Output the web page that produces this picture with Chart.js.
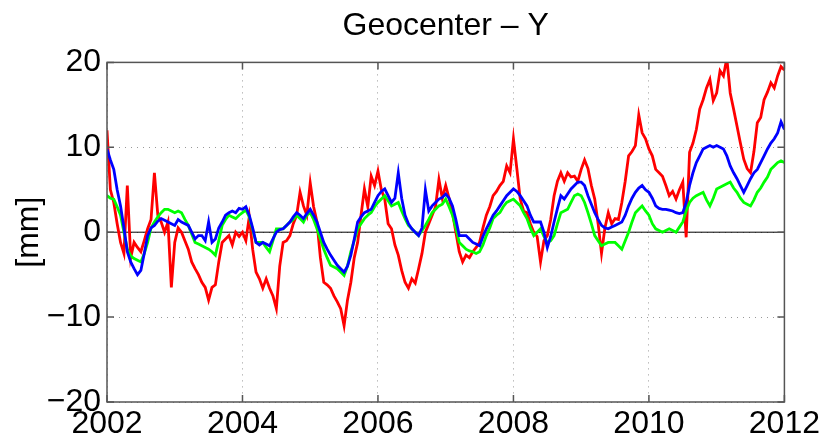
<!DOCTYPE html>
<html>
<head>
<meta charset="utf-8">
<script src="https://cdn.jsdelivr.net/npm/chart.js@4"></script>
<style>
  html, body { margin: 0; padding: 0; background: #fff; }
  #wrap { width: 823px; height: 439px; }
</style>
</head>
<body>
<div id="wrap"><canvas id="myChart" width="823" height="439"></canvas></div>
<script>
// time axis: one sample every 0.05 year, 2002.00 .. 2012.00
startYear = 2002
stepYear = 0.05

// values in mm, 20 per year (x.00 .. x.95) + final 2012.00
redValues = [
  12, 5, 3.5, 1, -1.2, -2.5, 5.5, -3, -1.2, -1.8, -2.3, -1, 0.4, 1.5, 7, 2, 1.2, 0, 1.2, -6.5,
  -1.2, 0.5, 0, -1, -2, -3.5, -4.3, -5, -5.9, -6.5, -8, -6.5, -6.2, -3.5, -1.2, -0.8, -0.4, -1.5, 0, -0.5,
  0, -1, 1.8, -2, -4.7, -5.5, -6.6, -5.5, -6.6, -7.5, -9, -4, -1.2, -1, -0.4, 1, 2, 4.7, 3.1, 2,
  5.8, 3, 1.2, -3, -5.9, -6.2, -6.6, -7.5, -8.2, -9, -11, -8, -5.9, -3, -1.2, 2, 5.1, 3, 6.6, 5.5,
  7.2, 5, 3.9, 1, 0.4, -1.5, -2.7, -4.5, -5.9, -6.6, -5.5, -6, -4.3, -2.5, 0, 1, 2, 3, 6.2, 4,
  5.5, 4, 2.3, 0, -2.3, -3.5, -2.7, -3, -2.3, -1.8, -1.2, 0.5, 2, 3, 4.3, 4.8, 5.5, 6, 7.8, 7,
  11, 7.5, 3.9, 2.5, 2.3, 1, 0, -0.5, -3.5, -1, -0.4, 1.5, 4.3, 6, 7, 6, 7, 6.5, 6.6, 6,
  7.4, 8.5, 7.5, 5.5, 3.9, 1, -2.5, 0.5, 2.3, 1, 1.6, 1.5, 3.5, 6, 9, 9.5, 10.2, 13.8, 11.7, 11,
  9.8, 9, 7.4, 7, 6.6, 5.5, 4.3, 4.8, 3.9, 5, 5.9, -0.6, 9.4, 10.5, 12.1, 14.5, 15.6, 17, 18, 15.5,
  16.4, 19, 18.4, 20.5, 16.4, 14.5, 12.5, 10.5, 8.6, 7.5, 7, 9.5, 12.9, 13.5, 15.6, 16.5, 17.6, 17, 18.4, 19.5,
  19.1
]

greenValues = [
  4.3, 4, 3.9, 3, 2, 0, -2, -2.8, -3.1, -3.3, -3.5, -2.5, -1.2, 0.5, 1.2, 1.8, 2.3, 2.7, 2.7, 2.5,
  2.3, 2.5, 2.3, 1.5, 0.8, -0.2, -1.2, -1.4, -1.6, -1.8, -2, -2.3, -2.7, -1, 0.8, 1.5, 2, 1.8, 1.6, 2,
  2.3, 2.6, 1.8, 0.3, -1.2, -1.2, -1.2, -1.8, -2.3, -1, 0.4, 0.4, 0.4, 0.8, 1.2, 1.5, 2, 1.6, 1.2, 2,
  2.3, 1.5, 0.4, -0.8, -2, -3, -3.9, -4.1, -4.3, -4.7, -5.1, -4, -2.3, -1, 0.4, 1, 1.6, 2, 2.3, 3,
  3.5, 3.9, 4.3, 3.7, 3.1, 3.3, 3.5, 2.5, 1.6, 0.8, 0.4, 0, -0.4, 0.2, 0.8, 1.5, 2.3, 2.7, 3.1, 3.3,
  3.9, 3, 2, 0.5, -1.2, -1.6, -2, -2.2, -2.3, -2.5, -2.3, -1.5, -0.4, 0.5, 1.6, 2, 2.3, 3, 3.5, 3.7,
  3.9, 3.5, 3.1, 2.3, 1.6, 0.5, -0.4, 0, 0.4, -0.5, -1.2, -1, -0.4, 1, 2.3, 2.5, 2.7, 3.5, 4.3, 4.5,
  4.3, 3.5, 2.3, 1, -0.4, -1, -1.6, -1.4, -1.2, -1.2, -1.2, -1.6, -2, -1, 0, 1.2, 2.3, 2.7, 3.1, 2.5,
  2, 1, 0.4, 0.2, 0, 0.2, 0.4, 0.2, 0, 0.6, 1.2, 2.5, 3.5, 4, 4.3, 4.5, 4.7, 3.8, 3.1, 4,
  5.1, 5.3, 5.5, 5.7, 5.9, 5.2, 4.7, 4, 3.5, 3.3, 3.1, 3.8, 4.7, 5.2, 5.9, 6.5, 7.4, 7.8, 8.2, 8.4,
  8.2
]

blueValues = [
  9.8, 8.5, 7.4, 5, 3.1, 0.5, -2.3, -3.5, -4.3, -5, -4.5, -2.5, -0.4, 0.5, 0.8, 1.3, 1.6, 1.4, 1.2, 1,
  0.8, 1.5, 1.2, 1, 0.8, 0, -0.8, -0.4, -0.4, -1, 1.2, -1.2, -0.8, 0.5, 1.2, 2, 2.3, 2.5, 2.3, 2.8,
  2.7, 3, 2, 0.5, -1.2, -1.5, -1.2, -1.4, -1.6, -0.8, 0, 0.3, 0.4, 0.8, 1.2, 1.8, 2.3, 2, 1.6, 2.2,
  2.7, 2, 1.2, 0, -1.2, -2, -2.7, -3.3, -3.9, -4.3, -4.7, -4, -2.7, -0.8, 1.2, 1.8, 2.3, 2.5, 2.7, 3.5,
  4.3, 4.8, 5.1, 4.3, 3.5, 4, 7, 4, 2, 1, 0.4, 0, -0.4, 0.5, 5, 2.5, 3.1, 3.5, 3.9, 4.1,
  4.5, 4, 3.1, 1.5, -0.4, -0.4, -0.4, -0.8, -1.2, -1.4, -1.6, -0.5, 0.4, 1.2, 2, 2.5, 3.1, 3.7, 4.3, 4.7,
  5.1, 4.8, 4.3, 3.7, 3.1, 2, 1.2, 1.2, 1.2, 0, -1.8, -0.5, 1.2, 2.8, 4.3, 3.9, 4.5, 5.1, 5.5, 5.9,
  5.9, 5.5, 4.3, 3.3, 2.3, 1.5, 0.8, 0.5, 0.4, 0.6, 0.8, 1, 1.2, 2, 3.1, 4, 4.7, 5.2, 5.5, 5,
  4.7, 4, 3.1, 2.8, 2.7, 2.7, 2.6, 2.5, 2.3, 2.2, 2.3, 3.5, 5.5, 7, 8.2, 9, 9.8, 10, 10.2, 10,
  10.2, 10, 9.8, 9, 7.8, 7, 6.3, 5.5, 4.7, 5.5, 6.3, 7, 7.4, 8.2, 9, 9.8, 10.5, 11, 11.7, 13,
  12.1
]

xTicks = [2002, 2004, 2006, 2008, 2010, 2012]
yTicks = [-20, -10, 0, 10, 20]

function toPoints(values)
{
    pts = []
    for (i = 0; i < values.length; i++)
    {
        pts.push({ x: startYear + i * stepYear, y: values[i] })
    }
    return pts
}

fontFamily = "'Liberation Sans', Arial, Helvetica, sans-serif"

// MATLAB style box with inner tick marks
framePlugin = {
    id: 'frame',
    afterDatasetsDraw(chart)
    {
        const ctx = chart.ctx
        const a = chart.chartArea
        const xs = chart.scales.x
        const ys = chart.scales.y
        ctx.save()
        ctx.strokeStyle = '#555'
        ctx.lineWidth = 1.5
        ctx.strokeRect(a.left, a.top, a.right - a.left, a.bottom - a.top)
        ctx.beginPath()
        for (v of xTicks)
        {
            px = xs.getPixelForValue(v)
            ctx.moveTo(px, a.bottom); ctx.lineTo(px, a.bottom - 7)
            ctx.moveTo(px, a.top); ctx.lineTo(px, a.top + 7)
        }
        for (v of yTicks)
        {
            py = ys.getPixelForValue(v)
            ctx.moveTo(a.left, py); ctx.lineTo(a.left + 7, py)
            ctx.moveTo(a.right, py); ctx.lineTo(a.right - 7, py)
        }
        ctx.stroke()
        ctx.restore()
    }
}

var ctx = document.getElementById('myChart').getContext('2d')
var myChart = new Chart(ctx, {
    type: 'line',
    data: {
        datasets: [
        {
            label: 'zero',
            data: [{ x: 2002, y: 0 }, { x: 2012, y: 0 }],
            borderColor: '#000',
            borderWidth: 1,
            order: 4
        },
        {
            label: 'red',
            data: toPoints(redValues),
            borderColor: 'rgb(255,0,0)',
            borderWidth: 2.8,
            order: 3
        },
        {
            label: 'green',
            data: toPoints(greenValues),
            borderColor: 'rgb(0,255,0)',
            borderWidth: 2.8,
            order: 2
        },
        {
            label: 'blue',
            data: toPoints(blueValues),
            borderColor: 'rgb(0,0,255)',
            borderWidth: 2.8,
            order: 1
        }]
    },
    options: {
        responsive: false,
        animation: false,
        layout: { padding: { left: 0, right: 36, top: 0, bottom: 0 } },
        elements: { point: { radius: 0 }, line: { tension: 0 } },
        scales: {
            x: {
                type: 'linear',
                min: 2002,
                max: 2012,
                afterBuildTicks: function(s) { s.ticks = xTicks.map(v => ({ value: v })) },
                afterFit: function(s) { s.height = 37 },
                ticks: {
                    color: '#000',
                    padding: 3,
                    maxRotation: 0,
                    font: { family: fontFamily, size: 32 },
                    callback: function(v) { return String(v) }
                },
                grid: { color: '#999', lineWidth: 1, drawTicks: false },
                border: { display: false, dash: [1, 5] }
            },
            y: {
                min: -20,
                max: 20,
                afterBuildTicks: function(s) { s.ticks = yTicks.map(v => ({ value: v })) },
                afterFit: function(s) { s.width = 107 },
                ticks: {
                    color: '#000',
                    padding: 6,
                    font: { family: fontFamily, size: 32 },
                    callback: function(v) { return v < 0 ? '\u2212' + Math.abs(v) : String(v) }
                },
                grid: { color: '#999', lineWidth: 1, drawTicks: false },
                border: { display: false, dash: [1, 5] },
                title: {
                    display: true,
                    text: '[mm]',
                    color: '#000',
                    padding: { top: 10, bottom: 0 },
                    font: { family: fontFamily, size: 32 }
                }
            }
        },
        plugins: {
            legend: { display: false },
            tooltip: { enabled: false },
            title: {
                display: true,
                fullSize: false,
                text: 'Geocenter \u2013 Y',
                color: '#000',
                padding: { top: 7, bottom: 17 },
                font: { family: fontFamily, size: 32, weight: 'normal' }
            }
        }
    },
    plugins: [framePlugin]
})
</script>
</body>
</html>
